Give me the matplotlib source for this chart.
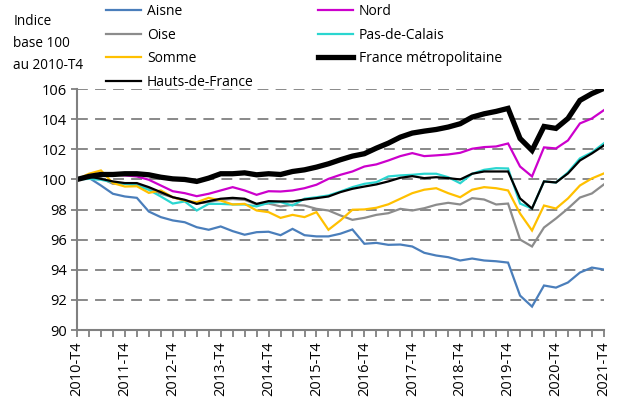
import matplotlib
matplotlib.use('Agg')
from matplotlib import pyplot as plt
import numpy as np

plt.rcParams['font.family'] = ['Open Sans', 'DejaVu Sans']

# quarters 2010-T4 .. 2021-T4
quarters = ['%d-T%d' % (2010 + (q + 3) // 4, (q + 3) % 4 + 1) for q in range(45)]
tick_labels = ['%d-T4' % y for y in range(2010, 2022)]

aisne = [100.0, 100.11, 99.6, 99.05, 98.87, 98.78, 97.87, 97.5, 97.28, 97.16,
         96.83, 96.66, 96.88, 96.57, 96.33, 96.5, 96.53, 96.3, 96.72, 96.3,
         96.22, 96.22, 96.4, 96.68, 95.73, 95.79, 95.66, 95.68, 95.55, 95.13,
         94.95, 94.84, 94.62, 94.75, 94.62, 94.57, 94.48, 92.29, 91.56, 92.96,
         92.82, 93.16, 93.82, 94.15, 94.02]
nord = [100.0, 100.27, 100.33, 100.33, 100.27, 100.2, 99.98, 99.6, 99.22, 99.09,
        98.89, 99.05, 99.27, 99.49, 99.27, 98.98, 99.22, 99.2, 99.27, 99.42,
        99.65, 100.04, 100.31, 100.53, 100.86, 101.0, 101.26, 101.55, 101.75, 101.55,
        101.6, 101.66, 101.77, 102.04, 102.15, 102.19, 102.39, 100.86, 100.2, 102.13,
        102.06, 102.59, 103.72, 104.05, 104.6]
oise = [100.0, 100.15, 100.09, 99.71, 99.71, 99.71, 99.4, 99.05, 98.82, 98.6,
        98.4, 98.5, 98.65, 98.7, 98.65, 98.34, 98.4, 98.21, 98.32, 98.27,
        98.05, 97.94, 97.61, 97.32, 97.45, 97.65, 97.76, 98.05, 97.94, 98.09,
        98.32, 98.45, 98.34, 98.76, 98.67, 98.34, 98.4, 96.01, 95.55, 96.81,
        97.41, 98.07, 98.8, 99.07, 99.67]
pas_de_calais = [100.0, 100.04, 99.98, 99.82, 99.71, 99.6, 99.31, 98.87, 98.4, 98.54,
                 97.94, 98.38, 98.38, 98.34, 98.34, 98.21, 98.45, 98.5, 98.27, 98.72,
                 98.82, 98.94, 99.2, 99.49, 99.71, 99.82, 100.2, 100.27, 100.31, 100.38,
                 100.38, 100.15, 99.75, 100.38, 100.64, 100.75, 100.73, 98.4, 98.07, 99.87,
                 99.8, 100.47, 101.4, 101.8, 102.4]
somme = [100.0, 100.38, 100.6, 99.76, 99.53, 99.55, 99.11, 99.27, 98.82, 98.6,
         98.49, 98.78, 98.6, 98.34, 98.38, 97.94, 97.83, 97.45, 97.65, 97.5,
         97.83, 96.66, 97.28, 97.99, 98.01, 98.12, 98.35, 98.72, 99.09, 99.32,
         99.42, 99.09, 98.82, 99.32, 99.49, 99.42, 99.27, 97.74, 96.61, 98.27,
         98.07, 98.74, 99.6, 100.07, 100.4]
hauts_de_france = [100.0, 100.2, 100.04, 99.87, 99.76, 99.76, 99.49, 99.16, 98.82, 98.65,
                   98.38, 98.56, 98.72, 98.78, 98.72, 98.38, 98.56, 98.54, 98.54, 98.67,
                   98.76, 98.87, 99.16, 99.38, 99.53, 99.67, 99.87, 100.11, 100.22, 100.09,
                   100.15, 100.09, 100.0, 100.38, 100.53, 100.53, 100.53, 98.74, 98.07, 99.87,
                   99.8, 100.4, 101.26, 101.73, 102.26]
france = [100.0, 100.2, 100.33, 100.33, 100.38, 100.38, 100.31, 100.15, 100.04, 100.0,
          99.87, 100.09, 100.38, 100.38, 100.44, 100.31, 100.38, 100.33, 100.53, 100.64,
          100.82, 101.04, 101.31, 101.55, 101.71, 102.08, 102.41, 102.81, 103.08, 103.21,
          103.32, 103.48, 103.7, 104.14, 104.36, 104.52, 104.72, 102.72, 101.93, 103.52,
          103.39, 104.05, 105.25, 105.7, 106.05]

GREY = '#808080'

fig = plt.figure(figsize=(6.31, 4.05), dpi=100)
ax = fig.add_axes([0.122, 0.185, 0.835, 0.595])

x = np.arange(len(quarters))
series = [
    ('Aisne', aisne, '#4a7ebb', 1.6),
    ('Nord', nord, '#cc00cc', 1.6),
    ('Oise', oise, '#8c8c8c', 1.6),
    ('Pas-de-Calais', pas_de_calais, '#2ad6d0', 1.6),
    ('Somme', somme, '#ffc000', 1.6),
    ('Hauts-de-France', hauts_de_france, 'black', 1.6),
    ('France métropolitaine', france, 'black', 3.8),
]
lines = {}
for name, vals, color, lw in series:
    lines[name], = ax.plot(x, vals, color=color, lw=lw, solid_joinstyle='miter', label=name)

ax.set_xlim(0, 44)
ax.set_ylim(90, 106)
ax.set_yticks(np.arange(90, 107, 2))
ax.set_xticks(x, minor=True)
ax.set_xticks(np.arange(0, 45, 4))
ax.set_xticklabels(tick_labels, rotation=90)

for v in range(92, 107, 2):
    ax.axhline(v, color=GREY, lw=1.3, dashes=(6, 4), zorder=0)

for s in ['top', 'right']:
    ax.spines[s].set_visible(False)
for s in ['left', 'bottom']:
    ax.spines[s].set_color(GREY)
    ax.spines[s].set_linewidth(1.5)

ax.tick_params(axis='y', length=4, width=1.3, color=GREY, labelsize=10.5, pad=3)
ax.tick_params(axis='x', which='both', length=5, width=1.3, color=GREY, labelsize=10.5, pad=3)

fig.text(0.021, 0.965, 'Indice\nbase 100\nau 2010-T4', ha='left', va='top',
         fontsize=9.8, linespacing=1.62)

col1 = ['Aisne', 'Oise', 'Somme', 'Hauts-de-France']
col2 = ['Nord', 'Pas-de-Calais', 'France métropolitaine']
leg_kw = dict(loc='upper left', frameon=False, fontsize=10, handlelength=2.5,
              handletextpad=0.45, labelspacing=0.62, borderpad=0, borderaxespad=0)
fig.legend([lines[n] for n in col1], col1, bbox_to_anchor=(0.168, 0.99), **leg_kw)
fig.legend([lines[n] for n in col2], col2, bbox_to_anchor=(0.504, 0.99), **leg_kw)

fig.savefig('out.png', dpi=100)
